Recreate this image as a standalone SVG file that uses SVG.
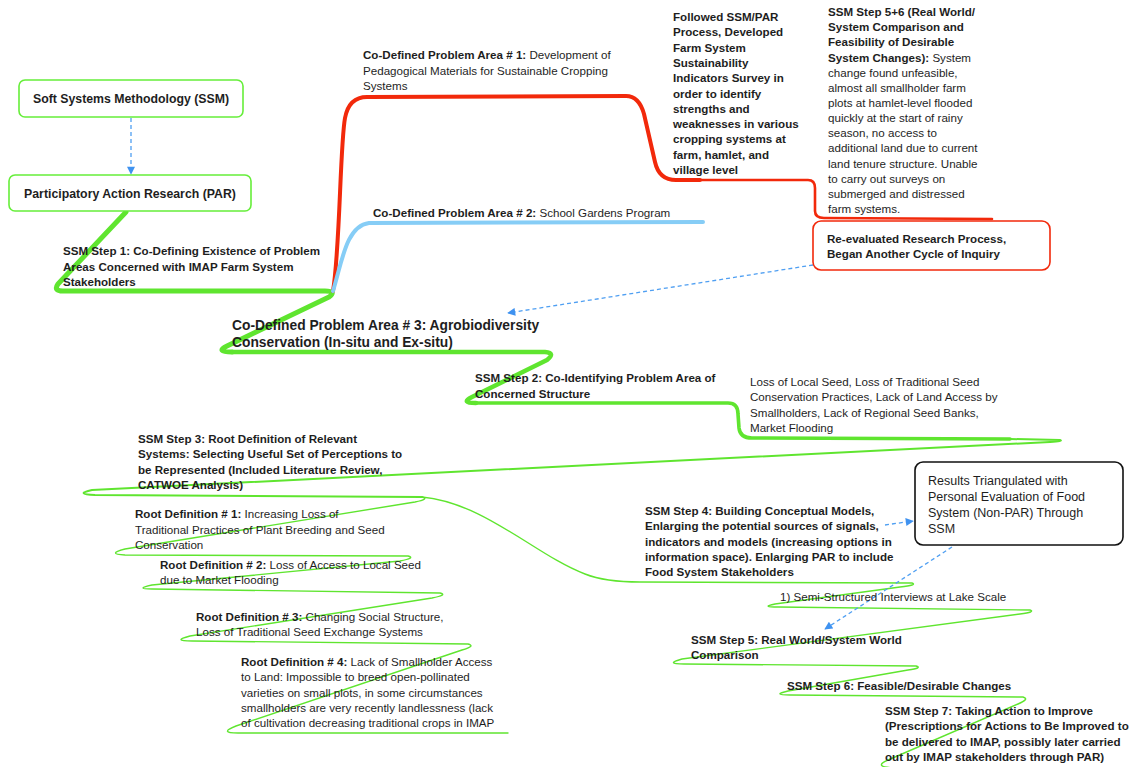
<svg xmlns="http://www.w3.org/2000/svg" width="1135" height="767" viewBox="0 0 1135 767">
<style>
text{font-family:"Liberation Sans",Arial,sans-serif;font-size:11.6px;fill:#1e1e1e}
.b{font-weight:bold}
.big{font-size:13.8px;font-weight:bold}
.bx{font-size:12.3px;font-weight:bold}
.rs{font-size:12.5px}
.g{fill:none;stroke:#5fe52f;stroke-linecap:round;stroke-linejoin:round}
.r{fill:none;stroke:#f2290b;stroke-linecap:round;stroke-linejoin:round}
.bl{fill:none;stroke:#86cdf6;stroke-linecap:round}
.d{fill:none;stroke:#4f9ff2;stroke-width:1.3;stroke-dasharray:4 3;marker-end:url(#ah)}
</style>
<defs>
<marker id="ah" viewBox="0 0 10 10" refX="9" refY="5" markerWidth="9" markerHeight="8" orient="auto" markerUnits="userSpaceOnUse">
<path d="M0,0 L10,5 L0,10 z" fill="#3f92f0"/>
</marker>
</defs>
<rect width="1135" height="767" fill="#fff"/>

<g id="connectors">
<!-- green main branch -->
<path class="g" stroke-width="5" d="M126,212 L58,284 Q53,291 63,291 L325,291 Q337,291 329,297 L227,346 Q215,352 232,352"/>
<path class="g" stroke-width="4.5" d="M232,352 L545,352 Q556,353 547,360 L472,397 Q460,403 476,403"/>
<path class="g" stroke-width="3.6" d="M476,403 L728,403 Q738,403 738,414 L739,428 Q740,438 752,438 L1010,439"/>
<path class="g" stroke-width="2" d="M1010,439 L1060,440 Q1064,441 1050,442 L92,490 Q74,494 95,495 L422,497"/>
<path class="g" stroke-width="1.4" d="M422,497 Q430,499 415,502 L125,549 Q106,554 125,555 L408,556 Q416,558 400,561 L152,585 Q134,589 152,589 L440,593 Q448,595 432,598 L190,636 Q171,641 192,641 L468,644 Q476,646 462,650 L236,726 Q218,733 238,733 L508,733"/>
<path class="g" stroke-width="1.4" d="M422,497 C485,503 535,555 585,574 Q605,582 640,582 L912,583 Q918,585 900,587 L775,604 Q760,607 778,607 L1030,610 Q1036,612 1020,614 L682,659 Q664,664 684,664 L916,666 Q923,668 908,670 L788,691 Q771,695 790,695 L1023,697 Q1030,699 1018,704 L888,760 Q872,767 895,768 L1135,768"/>
<!-- red branch -->
<path class="r" stroke-width="4" d="M333,291 C340,250 340,145 345,118 Q349,97 367,97 L626,96 Q639,96 644,114 L655,162 Q659,180 676,180 L700,180"/>
<path class="r" stroke-width="2.6" d="M700,180 L808,180 Q815,180 815,188 L815,211 Q815,218 824,218 L992,219"/>
<!-- blue branch -->
<path class="bl" stroke-width="4" d="M333,291 C342,262 346,226 369,223 L703,222"/>
<!-- dashed arrows -->
<path class="d" d="M131,118 L131,174"/>
<path class="d" d="M813,265 L508,313"/>
<path class="d" d="M885,525 L913,521"/>
<path class="d" d="M952,547 L825,629"/>
</g>

<g id="ssm">
<rect x="19" y="80" width="224" height="37" rx="6" fill="#fff" stroke="#66ee3a" stroke-width="1.6"/>
<text class="bx" x="131" y="103" text-anchor="middle">Soft Systems Methodology (SSM)</text>
</g>
<g id="par">
<rect x="9" y="175" width="242" height="36" rx="6" fill="#fff" stroke="#66ee3a" stroke-width="1.6"/>
<text class="bx" x="130" y="198" text-anchor="middle">Participatory Action Research (PAR)</text>
</g>
<g id="step1">
<text class="b" x="63" y="255">SSM Step 1: Co-Defining Existence of Problem</text>
<text class="b" x="63" y="271">Areas Concerned with IMAP Farm System</text>
<text class="b" x="63" y="286">Stakeholders</text>
</g>
<g id="area1">
<text x="363" y="59"><tspan class="b">Co-Defined Problem Area # 1:</tspan> Development of</text>
<text x="363" y="75">Pedagogical Materials for Sustainable Cropping</text>
<text x="363" y="90">Systems</text>
</g>
<g id="area2">
<text x="373" y="217"><tspan class="b">Co-Defined Problem Area # 2:</tspan> School Gardens Program</text>
</g>
<g id="followed">
<text class="b" x="673" y="21">Followed SSM/PAR</text>
<text class="b" x="673" y="36.3">Process, Developed</text>
<text class="b" x="673" y="51.6">Farm System</text>
<text class="b" x="673" y="66.9">Sustainability</text>
<text class="b" x="673" y="82.2">Indicators Survey in</text>
<text class="b" x="673" y="97.5">order to identify</text>
<text class="b" x="673" y="112.8">strengths and</text>
<text class="b" x="673" y="128.1">weaknesses in various</text>
<text class="b" x="673" y="143.4">cropping systems at</text>
<text class="b" x="673" y="158.7">farm, hamlet, and</text>
<text class="b" x="673" y="174">village level</text>
</g>
<g id="step56">
<text class="b" x="828" y="16">SSM Step 5+6 (Real World/</text>
<text class="b" x="828" y="31.2">System Comparison and</text>
<text class="b" x="828" y="46.3">Feasibility of Desirable</text>
<text x="828" y="61.5"><tspan class="b">System Changes):</tspan> System</text>
<text x="828" y="76.6">change found unfeasible,</text>
<text x="828" y="91.8">almost all smallholder farm</text>
<text x="828" y="106.9">plots at hamlet-level flooded</text>
<text x="828" y="122.1">quickly at the start of rainy</text>
<text x="828" y="137.2">season, no access to</text>
<text x="828" y="152.4">additional land due to current</text>
<text x="828" y="167.5">land tenure structure. Unable</text>
<text x="828" y="182.7">to carry out surveys on</text>
<text x="828" y="197.8">submerged and distressed</text>
<text x="828" y="213">farm systems.</text>
</g>
<g id="reeval">
<rect x="813" y="221" width="237" height="49" rx="8" fill="#fff" stroke="#f2290b" stroke-width="1.6"/>
<text class="b" x="827" y="243">Re-evaluated Research Process,</text>
<text class="b" x="827" y="258">Began Another Cycle of Inquiry</text>
</g>
<g id="area3">
<text class="big" x="232" y="330">Co-Defined Problem Area # 3: Agrobiodiversity</text>
<text class="big" x="232" y="347">Conservation (In-situ and Ex-situ)</text>
</g>
<g id="step2">
<text class="b" x="475" y="382">SSM Step 2: Co-Identifying Problem Area of</text>
<text class="b" x="475" y="398">Concerned Structure</text>
</g>
<g id="loss">
<text x="750" y="386">Loss of Local Seed, Loss of Traditional Seed</text>
<text x="750" y="401.3">Conservation Practices, Lack of Land Access by</text>
<text x="750" y="416.6">Smallholders, Lack of Regional Seed Banks,</text>
<text x="750" y="432">Market Flooding</text>
</g>
<g id="step3">
<text class="b" x="138" y="443">SSM Step 3: Root Definition of Relevant</text>
<text class="b" x="138" y="458.3">Systems: Selecting Useful Set of Perceptions to</text>
<text class="b" x="138" y="473.6">be Represented (Included Literature Review,</text>
<text class="b" x="138" y="489">CATWOE Analysis)</text>
</g>
<g id="rd1">
<text x="135" y="518"><tspan class="b">Root Definition # 1:</tspan> Increasing Loss of</text>
<text x="135" y="533.5">Traditional Practices of Plant Breeding and Seed</text>
<text x="135" y="549">Conservation</text>
</g>
<g id="rd2">
<text x="160" y="569"><tspan class="b">Root Definition # 2:</tspan> Loss of Access to Local Seed</text>
<text x="160" y="584">due to Market Flooding</text>
</g>
<g id="rd3">
<text x="196" y="621"><tspan class="b">Root Definition # 3:</tspan> Changing Social Structure,</text>
<text x="196" y="636">Loss of Traditional Seed Exchange Systems</text>
</g>
<g id="rd4">
<text x="241" y="666"><tspan class="b">Root Definition # 4:</tspan> Lack of Smallholder Access</text>
<text x="241" y="681.3">to Land: Impossible to breed open-pollinated</text>
<text x="241" y="696.6">varieties on small plots, in some circumstances</text>
<text x="241" y="711.9">smallholders are very recently landlessness (lack</text>
<text x="241" y="727.2">of cultivation decreasing traditional crops in IMAP</text>
</g>
<g id="results">
<rect x="915" y="462" width="208" height="83" rx="8" fill="#fff" stroke="#111" stroke-width="1.6"/>
<text class="rs" x="928" y="485">Results Triangulated with</text>
<text class="rs" x="928" y="501">Personal Evaluation of Food</text>
<text class="rs" x="928" y="517">System (Non-PAR) Through</text>
<text class="rs" x="928" y="533">SSM</text>
</g>
<g id="step4">
<text class="b" x="645" y="515">SSM Step 4: Building Conceptual Models,</text>
<text class="b" x="645" y="530.3">Enlarging the potential sources of signals,</text>
<text class="b" x="645" y="545.6">indicators and models (increasing options in</text>
<text class="b" x="645" y="560.9">information space). Enlarging PAR to include</text>
<text class="b" x="645" y="576.2">Food System Stakeholders</text>
</g>
<g id="semi">
<text x="780" y="601">1) Semi-Structured Interviews at Lake Scale</text>
</g>
<g id="step5">
<text class="b" x="691" y="644">SSM Step 5: Real World/System World</text>
<text class="b" x="691" y="659">Comparison</text>
</g>
<g id="step6">
<text class="b" x="787" y="690">SSM Step 6: Feasible/Desirable Changes</text>
</g>
<g id="step7">
<text class="b" x="885" y="715">SSM Step 7: Taking Action to Improve</text>
<text class="b" x="885" y="730.3">(Prescriptions for Actions to Be Improved to</text>
<text class="b" x="885" y="745.6">be delivered to IMAP, possibly later carried</text>
<text class="b" x="885" y="761">out by IMAP stakeholders through PAR)</text>
</g>
</svg>
